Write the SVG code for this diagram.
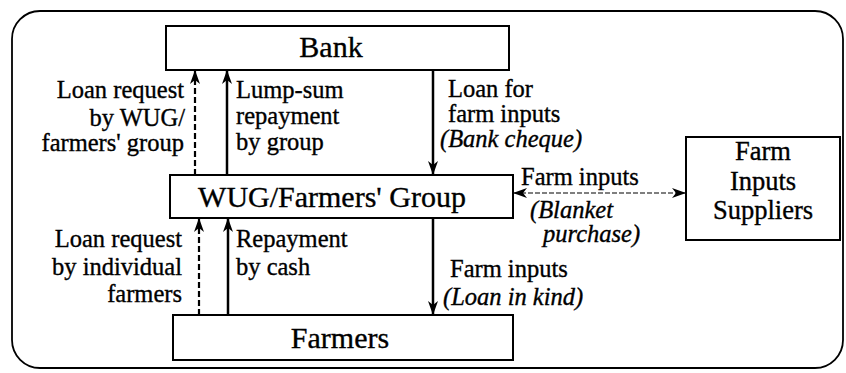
<svg xmlns="http://www.w3.org/2000/svg" width="846" height="373" viewBox="0 0 846 373">
<style>
.box{fill:#fff;stroke:#000;stroke-width:2}
text{font-family:'Liberation Serif','Times New Roman',serif;fill:#000;stroke:#000;stroke-width:0.35}
.node{font-size:30px;text-anchor:middle}
.sup{font-size:26.5px;text-anchor:middle}
.lbl{font-size:24.5px}
.it{font-style:italic}
.end{text-anchor:end}
.solid{stroke:#000;stroke-width:2.5;fill:none}
.dash{stroke:#000;stroke-width:2.2;stroke-dasharray:6 3;fill:none}
.thin{stroke:#000;stroke-width:1.2;stroke-dasharray:5 2;fill:none}
</style>
<defs>
<marker id="ah" markerUnits="userSpaceOnUse" markerWidth="14" markerHeight="10" viewBox="0 0 14 10" refX="13" refY="5" orient="auto-start-reverse">
<path d="M0,0 L14,5 L0,10 L4,5 z" fill="#000"/>
</marker>
</defs>
<rect x="12" y="11" width="831" height="357" rx="28" fill="none" stroke="#000" stroke-width="1.8"/>
<g id="bank"><rect class="box" x="166" y="26" width="343" height="44"/><text class="node" x="331" y="57">Bank</text></g>
<g id="wug"><rect class="box" x="170" y="175" width="343" height="43"/><text class="node" x="332" y="207">WUG/Farmers' Group</text></g>
<g id="farmers"><rect class="box" x="173" y="315" width="340" height="45"/><text class="node" x="340" y="348">Farmers</text></g>
<g id="suppliers"><rect class="box" x="686" y="137" width="154" height="103"/><text class="sup" x="763" y="160">Farm</text><text class="sup" x="763" y="189.5">Inputs</text><text class="sup" x="763" y="219">Suppliers</text></g>
<g id="connectors">
<line class="dash" x1="195" y1="175" x2="195" y2="71" marker-end="url(#ah)"/>
<line class="solid" x1="227" y1="175" x2="227" y2="71" marker-end="url(#ah)"/>
<line class="solid" x1="433" y1="70" x2="433" y2="174" marker-end="url(#ah)"/>
<line class="dash" x1="199" y1="315" x2="199" y2="219" marker-end="url(#ah)"/>
<line class="solid" x1="228" y1="315" x2="228" y2="219" marker-end="url(#ah)"/>
<line class="solid" x1="433" y1="218" x2="433" y2="314" marker-end="url(#ah)"/>
<line class="thin" x1="514" y1="193" x2="685" y2="193" marker-start="url(#ah)" marker-end="url(#ah)"/>
</g>
<g id="labels">
<text class="lbl end" x="184" y="98">Loan request</text>
<text class="lbl end" x="185" y="126">by WUG/</text>
<text class="lbl end" x="184" y="151">farmers' group</text>
<text class="lbl" x="236" y="98">Lump-sum</text>
<text class="lbl" x="236" y="124">repayment</text>
<text class="lbl" x="236" y="150">by group</text>
<text class="lbl" x="448" y="97">Loan for</text>
<text class="lbl" x="448" y="122">farm inputs</text>
<text class="lbl it" x="440" y="147">(Bank cheque)</text>
<text class="lbl" x="521" y="185">Farm inputs</text>
<text class="lbl it" x="530" y="218">(Blanket</text>
<text class="lbl it" x="543" y="242">purchase)</text>
<text class="lbl end" x="182" y="247">Loan request</text>
<text class="lbl end" x="182" y="275">by individual</text>
<text class="lbl end" x="182" y="302">farmers</text>
<text class="lbl" x="236" y="247">Repayment</text>
<text class="lbl" x="236" y="275">by cash</text>
<text class="lbl" x="450" y="277">Farm inputs</text>
<text class="lbl it" x="443" y="304.5">(Loan in kind)</text>
</g>
</svg>
